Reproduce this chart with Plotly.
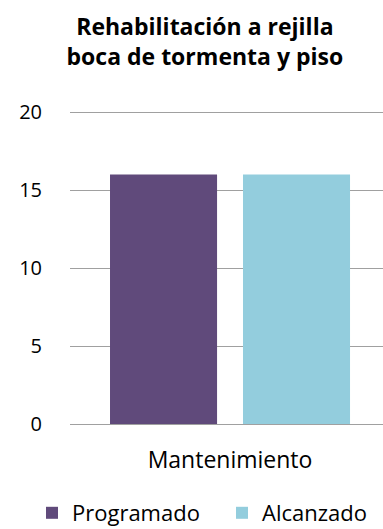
import plotly.graph_objects as go

categories = ["Mantenimiento"]
programado = [16]
alcanzado = [16]
series_names = ["Programado", "Alcanzado"]
title_text = "Rehabilitación a rejilla<br>boca de tormenta y piso"

FONT = "'Open Sans', sans-serif"

fig = go.Figure()
fig.add_trace(go.Bar(x=categories, y=programado, name=series_names[0],
                     marker=dict(color="#604A7B", line=dict(width=0)), legend="legend"))
fig.add_trace(go.Bar(x=categories, y=alcanzado, name=series_names[1],
                     marker=dict(color="#93CDDD", line=dict(width=0)), legend="legend2"))

legend_common = dict(orientation="h", xanchor="left", xref="container",
                     yref="container", y=16/529, yanchor="middle",
                     font=dict(size=22), itemwidth=30, bgcolor="rgba(0,0,0,0)")

fig.update_layout(
    width=383, height=529,
    paper_bgcolor="white", plot_bgcolor="white",
    barmode="group", bargap=0.169, bargroupgap=0.195,
    margin=dict(l=70, r=0, t=109, b=105, autoexpand=False),
    title=dict(text=title_text, x=0.535, xanchor="center", y=0.933, yanchor="top",
               font=dict(family=FONT, size=23, color="#000000", weight="bold")),
    font=dict(family=FONT, size=20, color="#000000"),
    showlegend=True,
    legend=dict(x=32/383, **legend_common),
    legend2=dict(x=222/383, **legend_common),
    xaxis=dict(range=[-0.5, 0.478], showline=False, showgrid=False, ticks="",
               tickfont=dict(size=23), ticklabelstandoff=20),
    yaxis=dict(range=[0, 20.2], tickvals=[0, 5, 10, 15, 20], showgrid=True,
               gridcolor="#A0A0A0", gridwidth=1.3,
               zeroline=True, zerolinecolor="#A0A0A0", zerolinewidth=1.3,
               showline=False, ticks="", ticklabelstandoff=27, tickfont=dict(size=20)),
)

fig.write_html("out.html", post_script="document.body.style.margin='0';",
               config={"displayModeBar": False})
